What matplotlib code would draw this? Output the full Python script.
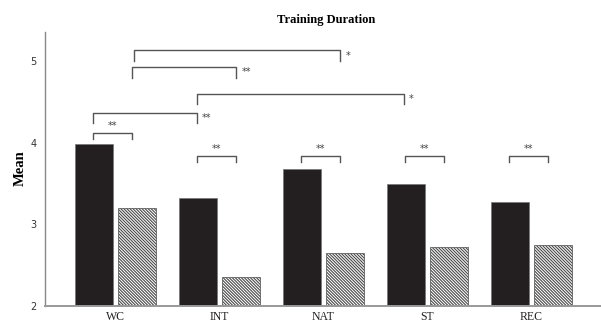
import matplotlib
matplotlib.use("Agg")
import matplotlib.pyplot as plt
import numpy as np

categories = ["WC", "INT", "NAT", "ST", "REC"]
solid_values = [3.98, 3.32, 3.68, 3.49, 3.27]
hatched_values = [3.20, 2.35, 2.64, 2.72, 2.74]

# significance brackets: (left category, left offset, right category, right offset, height, label)
brackets = [
    (0, 0.178, 2, 0.16, 5.13, "*"),
    (0, 0.162, 1, 0.16, 4.925, "**"),
    (1, -0.219, 3, -0.226, 4.60, "*"),
    (0, -0.213, 1, -0.219, 4.365, "**"),
]
pair_heights = [4.12, 3.835, 3.835, 3.835, 3.835]
pair_labels = ["**", "**", "**", "**", "**"]

plt.rcParams["hatch.linewidth"] = 0.8

fig = plt.figure(figsize=(6.01, 3.23), dpi=100)
ax = fig.add_axes([45 / 601, 17.5 / 323, 556 / 601, 273.8 / 323])

x = np.arange(len(categories))
w = 0.365
off = 0.205
ax.bar(x - off, solid_values, width=w, color="#231f20",
       edgecolor="#777777", linewidth=0.5, zorder=2)
ax.bar(x + off, hatched_values, width=w, color="white",
       edgecolor="#4a4a4a", hatch="\\" * 11, linewidth=0.5, zorder=2)

ax.set_xlim(-0.678, 4.668)
ax.set_ylim(2, 5.36)
ax.set_yticks([2, 3, 4, 5])
ax.set_yticklabels(["2", "3", "4", "5"], fontsize=7, color="#333333",
                   family="DejaVu Sans")
ax.set_xticks(x)
ax.set_xticklabels(categories, fontsize=8.5, family="Liberation Serif",
                   color="#222222")
ax.tick_params(axis="both", length=0)
ax.tick_params(axis="y", pad=6)
ax.tick_params(axis="x", pad=4)
for s in ["top", "right"]:
    ax.spines[s].set_visible(False)
ax.spines["left"].set_color("#888888")
ax.spines["left"].set_linewidth(1.0)
ax.spines["bottom"].set_color("#999999")
ax.spines["bottom"].set_linewidth(1.4)

ax.set_ylabel("Mean", fontsize=10.5, fontweight="bold", family="Liberation Serif",
              labelpad=3)
ax.set_title("Training Duration", fontsize=9, fontweight="bold",
             family="Liberation Serif", pad=6, x=0.505)

lc = "#555555"

for (c1, o1, c2, o2, h, lab) in brackets:
    x1 = c1 + o1
    x2 = c2 + o2
    leg = 0.13
    ax.plot([x1, x1, x2, x2], [h - leg, h, h, h - leg], color=lc, lw=1.0,
            solid_joinstyle="round", zorder=3)
    ax.text(x2 + 0.05, h - leg / 2, lab, fontsize=7, color="#444444",
            ha="left", va="center", family="DejaVu Sans")

for i, (h, lab) in enumerate(zip(pair_heights, pair_labels)):
    x1 = i - 0.217
    x2 = i + 0.16
    leg = 0.08
    ax.plot([x1, x1, x2, x2], [h - leg, h, h, h - leg], color=lc, lw=1.0,
            solid_joinstyle="round", zorder=3)
    ax.text((x1 + x2) / 2, h + 0.025, lab, fontsize=7, color="#444444",
            ha="center", va="bottom", family="DejaVu Sans")

fig.savefig("out.png", dpi=100)
